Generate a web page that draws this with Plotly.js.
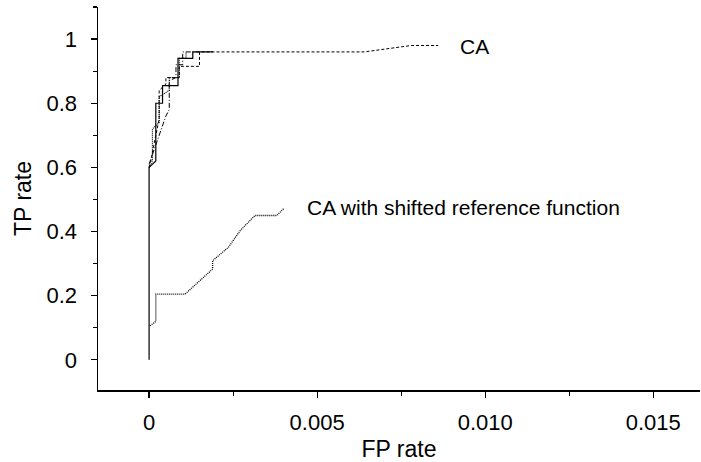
<!DOCTYPE html>
<html>
<head>
<meta charset="utf-8">
<script src="https://cdn.plot.ly/plotly-3.0.1.min.js"></script>
<style>
  html, body { margin: 0; padding: 0; background: #fff; }
  #chart { width: 701px; height: 462px; }
</style>
</head>
<body>
<div id="chart"></div>
<script>
// ROC curves: several runs of the plain CA detector and one run with a shifted reference function
const caSolidFP   = [0, 0, 0.0002, 0.0002, 0.0004, 0.0004, 0.00086, 0.00086, 0.0013, 0.0013, 0.0019];
const caSolidTP   = [0, 0.60, 0.62, 0.80, 0.80, 0.855, 0.855, 0.94, 0.94, 0.96, 0.96];

const caDashFP    = [0, 0.00005, 0.0002, 0.0003, 0.0003, 0.0005, 0.0005, 0.0009, 0.0009, 0.0015, 0.0015, 0.0064, 0.0078, 0.0086];
const caDashTP    = [0.60, 0.62, 0.70, 0.75, 0.84, 0.86, 0.88, 0.88, 0.915, 0.915, 0.96, 0.96, 0.98, 0.98];

const caDashDotFP = [0, 0.0001, 0.0003, 0.0005, 0.0006, 0.0006, 0.0008, 0.0008, 0.0010, 0.0010, 0.0015];
const caDashDotTP = [0.61, 0.64, 0.70, 0.76, 0.78, 0.87, 0.88, 0.92, 0.92, 0.96, 0.96];

const caDotFP     = [0, 0.0001, 0.0001, 0.0003, 0.0003, 0.0006, 0.0006, 0.0009, 0.0009, 0.0011, 0.0011];
const caDotTP     = [0.60, 0.62, 0.72, 0.74, 0.82, 0.84, 0.88, 0.88, 0.94, 0.94, 0.96];

const shiftedFP   = [0.00003, 0.0002, 0.0002, 0.00107, 0.00189, 0.00189, 0.00236, 0.00271, 0.00315, 0.0038, 0.0040];
const shiftedTP   = [0.106, 0.12, 0.205, 0.205, 0.283, 0.309, 0.351, 0.403, 0.45, 0.45, 0.471];

const xTickVals = [0, 0.005, 0.010, 0.015];
const xTickText = ['0', '0.005', '0.010', '0.015'];
const yTickVals = [0, 0.2, 0.4, 0.6, 0.8, 1];
const yTickText = ['0', '0.2', '0.4', '0.6', '0.8', '1'];

const curveLabels = ['CA', 'CA with shifted reference function'];

const FONT = 'Liberation Sans, Arial, Helvetica, sans-serif';

function line(x, y, dash, width) {
  return { x: x, y: y, type: 'scatter', mode: 'lines',
           line: { color: '#000', width: width || 1, dash: dash }, hoverinfo: 'skip' };
}

const traces = [
  line(shiftedFP, shiftedTP, '1px,1px', 1.3),
  line(caDotFP, caDotTP, '1px,1px', 1.2),
  line(caDashDotFP, caDashDotTP, '5px,2px,1px,2px'),
  line(caDashFP, caDashTP, '3px,2px'),
  line(caSolidFP, caSolidTP, 'solid', 1.2)
];

const axisCommon = {
  showline: true, linecolor: '#000', linewidth: 1.5,
  showgrid: false, zeroline: false,
  ticks: 'outside', ticklen: 6, tickwidth: 1.2, tickcolor: '#000',
  tickfont: { family: FONT, size: 22, color: '#000' }
};

const layout = {
  width: 701, height: 462,
  margin: { l: 98, r: 1, t: 7, b: 72 },
  paper_bgcolor: '#fff', plot_bgcolor: '#fff',
  showlegend: false,
  xaxis: Object.assign({}, axisCommon, {
    range: [-0.00152, 0.01639],
    tickmode: 'array', tickvals: xTickVals, ticktext: xTickText,
    ticklabelstandoff: 6,
    minor: { ticks: 'outside', ticklen: 4, tickwidth: 1.2, tickcolor: '#000', dtick: 0.0025, tick0: 0, showgrid: false },
    title: { text: 'FP rate', font: { family: FONT, size: 23, color: '#000' }, standoff: 8 }
  }),
  yaxis: Object.assign({}, axisCommon, {
    range: [-0.094, 1.1],
    tickmode: 'array', tickvals: yTickVals, ticktext: yTickText,
    ticklabelstandoff: 9,
    minor: { ticks: 'outside', ticklen: 4, tickwidth: 1.2, tickcolor: '#000', dtick: 0.1, tick0: 0, showgrid: false },
    title: { text: 'TP rate', font: { family: FONT, size: 23, color: '#000' }, standoff: 8 }
  }),
  annotations: [
    { x: 0.0092, y: 0.976, xref: 'x', yref: 'y', text: curveLabels[0], showarrow: false,
      xanchor: 'left', yanchor: 'middle', font: { family: FONT, size: 21, color: '#000' } },
    { x: 0.00464, y: 0.475, xref: 'x', yref: 'y', text: curveLabels[1], showarrow: false,
      xanchor: 'left', yanchor: 'middle', font: { family: FONT, size: 21, color: '#000' } }
  ]
};

Plotly.newPlot('chart', traces, layout, { staticPlot: true, displayModeBar: false });
</script>
</body>
</html>
